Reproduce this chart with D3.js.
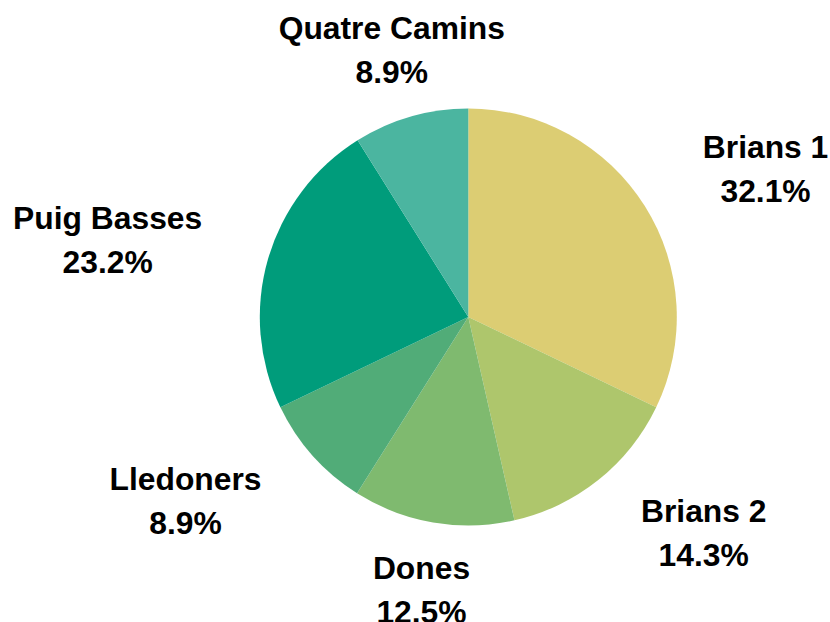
<!DOCTYPE html>
<html>
<head>
<meta charset="utf-8">
<script src="https://cdn.jsdelivr.net/npm/d3@7"></script>
<style>
  html, body { margin: 0; padding: 0; background: #fff; }
  svg { display: block; }
</style>
</head>
<body>
<div id="chart"></div>
<script>
(function() {
    'use strict';

    // Data
    var categories = ['Brians 1', 'Brians 2', 'Dones', 'Lledoners', 'Puig Basses', 'Quatre Camins'];
    var shares = [32.1, 14.3, 12.5, 8.9, 23.2, 8.9];
    var colors = ['#dccd73', '#aec66c', '#7fba6f', '#51ac78', '#009c7b', '#4bb5a0'];

    var width = 830, height = 622;
    var cx = 468.3, cy = 317, radius = 208.5;
    var labelRadius = 277;

    var data = categories.map(function(c, i) {
        return { name: c, value: shares[i], color: colors[i] };
    });

    var svg = d3.select('#chart').append('svg')
        .attr('width', width)
        .attr('height', height)
        .style('font-family', '"Liberation Sans", Arial, sans-serif');

    var pie = d3.pie()
        .value(function(d) { return d.value; })
        .sort(null);

    var arc = d3.arc()
        .innerRadius(0)
        .outerRadius(radius);

    var g = svg.append('g')
        .attr('transform', 'translate(' + cx + ',' + cy + ')');

    var arcs = pie(data);

    g.selectAll('path')
        .data(arcs)
        .join('path')
        .attr('d', arc)
        .attr('fill', function(d) { return d.data.color; });

    // Labels: block anchored on a larger circle, lines centred within block
    var labels = g.selectAll('text.lbl')
        .data(arcs)
        .join('text')
        .attr('class', 'lbl')
        .attr('font-size', 31.8)
        .attr('font-weight', 'bold')
        .attr('fill', '#000')
        .attr('text-anchor', 'middle');

    labels.append('tspan')
        .attr('x', 0)
        .attr('y', -11.5)
        .text(function(d) { return d.data.name; });

    labels.append('tspan')
        .attr('x', 0)
        .attr('y', 32.5)
        .text(function(d) { return d3.format('.1f')(d.data.value) + '%'; });

    labels.attr('transform', function(d) {
        var a = (d.startAngle + d.endAngle) / 2;
        var s = Math.sin(a);
        var x = s * labelRadius;
        var y = -Math.cos(a) * labelRadius;
        var w = 0;
        d3.select(this).selectAll('tspan').each(function() {
            w = Math.max(w, this.getComputedTextLength());
        });
        if (Math.abs(s) >= 0.4) x += (s > 0 ? 1 : -1) * w / 2;
        return 'translate(' + x + ',' + y + ')';
    });
})();
</script>
</body>
</html>
